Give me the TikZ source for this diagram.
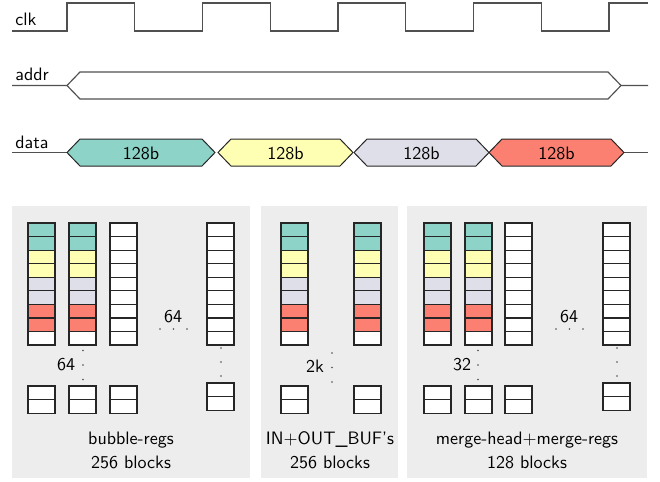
\documentclass[tikz,border=0pt]{standalone}
\definecolor{cteal}{HTML}{8DD3C7}
\definecolor{cyel}{HTML}{FFFFB3}
\definecolor{clav}{HTML}{DFDFEA}
\definecolor{csal}{HTML}{FB8072}
\definecolor{panelbg}{HTML}{EDEDED}
\definecolor{siggray}{HTML}{505050}
\tikzset{
  sig/.style={draw=siggray, line width=0.65pt, line join=miter},
  seg/.style={draw=black!85, line width=0.55pt},
  blk/.style={draw=black!85, line width=0.65pt},
  panelbox/.style={fill=panelbg, draw=none},
  lbl/.style={anchor=base west, inner sep=0pt},
  dotmark/.style={fill=black!70},
  txt/.style={inner sep=0pt}
}
\newcommand\blockcol[3]{%
  \foreach \cc [count=\ii from 0] in {#3} {
    \draw[blk, fill=\cc] (#1,#2+\ii*13.56) rectangle ++(27,13.56);
  }%
}
\newcommand\tridots[4]{% x1,y1,dx,dy
  \foreach \kk in {0,1,2} { \fill[dotmark] (#1+\kk*#3,#2+\kk*#4) circle (0.8); }%
}
\begin{document}
\begin{tikzpicture}[x=0.5556pt,y=-0.5556pt, font=\sffamily]
\useasboundingbox (0,0) rectangle (660,481);
% ---------- timing ----------
\node[lbl] (lclk) at (15,25) {clk};
\node[lbl] (laddr) at (15,80) {addr};
\node[lbl] (ldata) at (15,148) {data};
\draw[sig] (12,31) -- (67,31) -- (67,3) -- (134.75,3) -- (134.75,31) -- (202.5,31) -- (202.5,3)
  -- (270.25,3) -- (270.25,31) -- (338,31) -- (338,3) -- (405.75,3) -- (405.75,31)
  -- (473.5,31) -- (473.5,3) -- (541.25,3) -- (541.25,31) -- (609,31) -- (609,3) -- (648,3);
% addr
\draw[sig] (12,85.5) -- (67,85.5) -- (80,72) -- (608,72) -- (621,85.5) -- (648,85.5);
\draw[sig] (67,85.5) -- (80,99) -- (608,99) -- (621,85.5);
% data
\draw[sig] (12,152.5) -- (67,152.5);
\draw[sig] (624,152.5) -- (648,152.5);
\foreach \L/\R/\cc in {67/215/cteal, 218/353/cyel, 354/489/clav, 489/624/csal} {
  \draw[seg, fill=\cc] (\L,152.5) -- (\L+13,139) -- (\R-13,139) -- (\R,152.5) -- (\R-13,166) -- (\L+13,166) -- cycle;
  \node[txt] at ({(\L+\R)/2},153) {128b};
}
% ---------- panels ----------
\fill[panelbox] (12,206) rectangle (250,478);
\fill[panelbox] (261,206) rectangle (398,478);
\fill[panelbox] (407,206) rectangle (647,478);
% panel 1
\blockcol{28}{223}{cteal,cteal,cyel,cyel,clav,clav,csal,csal,white}
\blockcol{69}{223}{cteal,cteal,cyel,cyel,clav,clav,csal,csal,white}
\blockcol{110}{223}{white,white,white,white,white,white,white,white,white}
\blockcol{207}{223}{white,white,white,white,white,white,white,white,white}
\blockcol{28}{386}{white,white}
\blockcol{69}{386}{white,white}
\blockcol{110}{386}{white,white}
\blockcol{207}{383}{white,white}
\tridots{83}{350.5}{0}{14.5}
\node[txt] (n64a) at (66,365) {64};
\tridots{160}{329}{13.5}{0}
\node[txt] (n64b) at (173,317) {64};
\tridots{221}{348}{0}{14}
\node[txt] (p1a) at (131,440) {bubble-regs};
\node[txt] (p1b) at (131,462) {256 blocks};
% panel 2
\blockcol{281}{223}{cteal,cteal,cyel,cyel,clav,clav,csal,csal,white}
\blockcol{354}{223}{cteal,cteal,cyel,cyel,clav,clav,csal,csal,white}
\blockcol{281}{386}{white,white}
\blockcol{354}{386}{white,white}
\tridots{332}{353}{0}{14.5}
\node[txt] (n2k) at (315,366) {2k};
\node[txt] (p2a) at (330,440) {IN+OUT\_BUF's};
\node[txt] (p2b) at (330,462) {256 blocks};
% panel 3
\blockcol{424}{223}{cteal,cteal,cyel,cyel,clav,clav,csal,csal,white}
\blockcol{465}{223}{cteal,cteal,cyel,cyel,clav,clav,csal,csal,white}
\blockcol{505}{223}{white,white,white,white,white,white,white,white,white}
\blockcol{603}{223}{white,white,white,white,white,white,white,white,white}
\blockcol{424}{386}{white,white}
\blockcol{465}{386}{white,white}
\blockcol{505}{386}{white,white}
\blockcol{603}{383}{white,white}
\tridots{478}{350.5}{0}{14.5}
\node[txt] (n32) at (462,365) {32};
\tridots{556}{329}{13.5}{0}
\node[txt] (n64c) at (569,317) {64};
\tridots{617}{348}{0}{14}
\node[txt] (p3a) at (527,440) {merge-head+merge-regs};
\node[txt] (p3b) at (527,462) {128 blocks};
\end{tikzpicture}
\end{document}
